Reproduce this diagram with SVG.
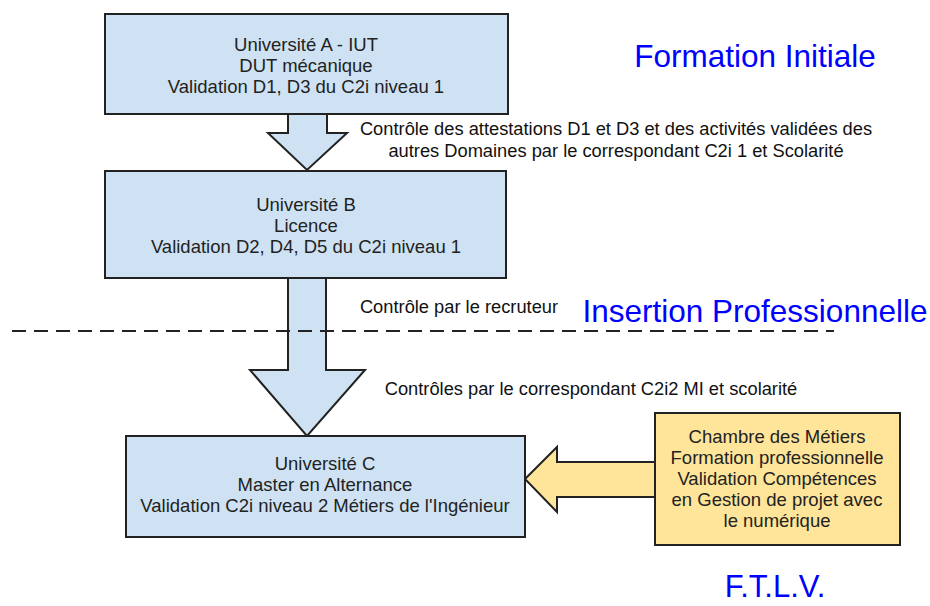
<svg xmlns="http://www.w3.org/2000/svg" width="930" height="606" viewBox="0 0 930 606">
<style>
.box{fill:#cfe2f3;stroke:#222;stroke-width:2}
.ybox{fill:#ffe599;stroke:#222;stroke-width:2}
.t{font-family:"Liberation Sans",Arial,sans-serif;font-size:18.5px;fill:#222;text-anchor:middle}
.l{font-family:"Liberation Sans",Arial,sans-serif;font-size:18.3px;fill:#111;text-anchor:middle}
.big{font-family:"Liberation Sans",Arial,sans-serif;fill:#0000ff}
</style>
<rect width="930" height="606" fill="#fff"/>
<g id="connectors">
<path class="box" d="M288,114 V133 H268 L307,170 L347,133 H327 V114 Z"/>
<path class="box" d="M288,278 V370 H250 L307,436 L365,370 H326 V278 Z"/>
<path class="ybox" d="M656,462 H557 V447 L525,479 L557,512 V497 H656 Z"/>
<line x1="12" y1="331" x2="834" y2="331" stroke="#222" stroke-width="2" stroke-dasharray="14,8"/>
</g>
<g id="nodeA">
<rect class="box" x="105" y="14" width="403" height="100"/>
<text class="t" x="306" y="51">Université A - IUT</text>
<text class="t" x="306" y="72">DUT mécanique</text>
<text class="t" x="306" y="93">Validation D1, D3 du C2i niveau 1</text>
</g>
<g id="nodeB">
<rect class="box" x="105" y="171" width="401" height="107"/>
<text class="t" x="306" y="211">Université B</text>
<text class="t" x="306" y="232">Licence</text>
<text class="t" x="306" y="253">Validation D2, D4, D5 du C2i niveau 1</text>
</g>
<g id="nodeC">
<rect class="box" x="126" y="436" width="399" height="101"/>
<text class="t" x="325" y="470">Université C</text>
<text class="t" x="325" y="491">Master en Alternance</text>
<text class="t" x="325" y="512">Validation C2i niveau 2 Métiers de l'Ingénieur</text>
</g>
<g id="nodeD">
<rect class="ybox" x="655" y="413" width="245" height="132"/>
<text class="t" x="777" y="443">Chambre des Métiers</text>
<text class="t" x="777" y="464">Formation professionnelle</text>
<text class="t" x="777" y="485">Validation Compétences</text>
<text class="t" x="777" y="506">en Gestion de projet avec</text>
<text class="t" x="777" y="527">le numérique</text>
</g>
<g id="labels">
<text class="l" x="616" y="135">Contrôle des attestations D1 et D3 et des activités validées des</text>
<text class="l" x="616" y="157">autres Domaines par le correspondant C2i 1 et Scolarité</text>
<text class="l" x="459" y="313">Contrôle par le recruteur</text>
<text class="l" x="591" y="395">Contrôles par le correspondant C2i2 MI et scolarité</text>
<text class="big" x="755" y="67" font-size="31.5" text-anchor="middle">Formation Initiale</text>
<text class="big" x="755" y="322" font-size="31.5" text-anchor="middle">Insertion Professionnelle</text>
<text class="big" x="775" y="597" font-size="31" text-anchor="middle">F.T.L.V.</text>
</g>
</svg>
